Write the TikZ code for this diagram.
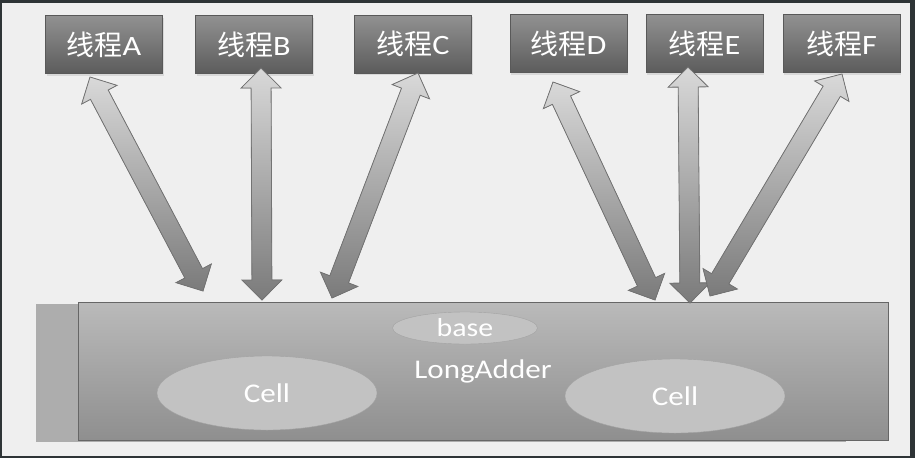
\documentclass[tikz,border=0pt]{standalone}
\usepackage{fontspec}
\setmainfont{Carlito}[FakeStretch=1.15]
\newfontfamily\cjk{Noto Sans CJK SC}
\usetikzlibrary{calc,shapes.geometric,shadows}

\definecolor{frame}{HTML}{2E3436}
\definecolor{paper}{HTML}{EFEFEF}

\newcommand{\blockarrow}[2]{%
  \filldraw[link] let \p1=(#1), \p2=(#2),
      \n1={atan2(\y2-\y1,\x2-\x1)}, \n2={veclen(\x2-\x1,\y2-\y1)} in
    (#1) -- ++({\n1+45}:28.28pt) -- ++({\n1-90}:10pt)
    -- ++(\n1:{\n2-40pt}) -- ++({\n1+90}:10pt) -- (#2)
    -- ++({\n1+225}:28.28pt) -- ++({\n1+90}:10pt)
    -- ++({\n1+180}:{\n2-40pt}) -- ++({\n1-90}:10pt) -- cycle;}

\begin{document}
\begin{tikzpicture}[
      x=1pt, y=-1pt,
      thread/.style={rectangle, minimum width=117pt, minimum height=58pt,
        draw=black!65, top color=black!43, bottom color=black!64, text=white,
        font=\fontsize{28}{30}\selectfont,
        drop shadow={opacity=0.2, shadow xshift=1pt, shadow yshift=-2pt}},
      adder/.style={rectangle, minimum width=810pt, minimum height=138pt,
        draw=black!60, top color=black!27, bottom color=black!44, text=white,
        font=\fontsize{27}{30}\selectfont,
        general shadow={fill=black!32, shadow xshift=-42pt, shadow yshift=-1.5pt}},
      cell/.style={ellipse, inner sep=0pt, minimum width=220pt, minimum height=74pt,
        draw=black!36, fill=black!24, text=white, font=\fontsize{27}{30}\selectfont},
      link/.style={draw=black!55, line width=0.8pt, top color=black!15,
        bottom color=black!52}]
    \fill[frame] (0,0) rectangle (915,458);
    \fill[paper] (2,3) rectangle (910,456);
    \useasboundingbox (0,0) rectangle (915,458);

    \node[thread] (tA) at (104,44.5) {{\cjk 线程}A};
    \node[thread] (tB) at (254,44.5) {{\cjk 线程}B};
    \node[thread] (tC) at (413,44) {{\cjk 线程}C};
    \node[thread] (tD) at (568.5,43.5) {{\cjk 线程}D};
    \node[thread] (tE) at (704.5,43.5) {{\cjk 线程}E};
    \node[thread] (tF) at (841.5,43.5) {{\cjk 线程}F};

    \node[adder] (adder) at (483,371) {LongAdder};
    \node[cell, minimum width=145pt, minimum height=32pt,
      font=\fontsize{26}{28}\selectfont] (base) at (465,328) {base};
    \node[cell] (cellL) at (267,393) {Cell};
    \node[cell] (cellR) at (675,396) {Cell};

    \coordinate (outA) at (90,77);
    \coordinate (outB) at (261,68);
    \coordinate (outC) at (418,73);
    \coordinate (outD) at (553,82);
    \coordinate (outE) at (688,67);
    \coordinate (outF) at (842,74);
    \coordinate (inA) at (203,291);
    \coordinate (inB) at (262,300);
    \coordinate (inC) at (332,298);
    \coordinate (inD) at (655,300);
    \coordinate (inE) at (690,303);
    \coordinate (inF) at (710,296);
    \foreach \t in {A,B,C,D,E,F}
      \blockarrow{out\t}{in\t};
  \end{tikzpicture}
\end{document}
